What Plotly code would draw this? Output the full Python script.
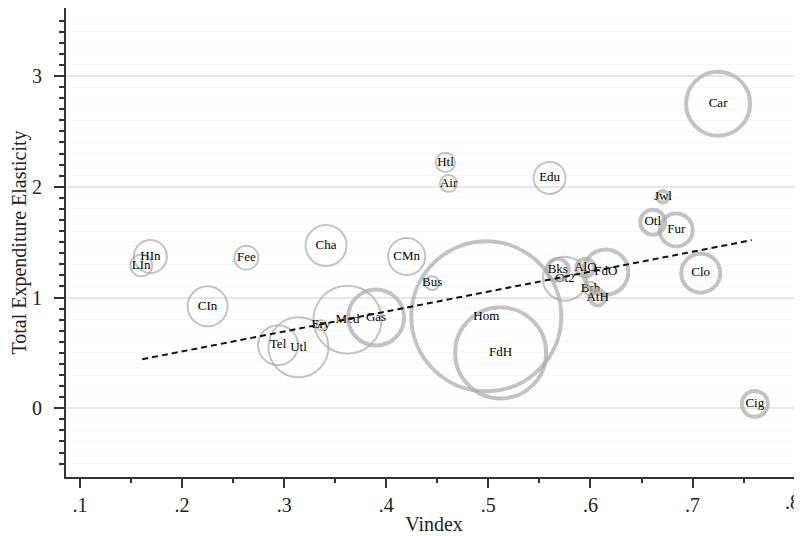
import plotly.graph_objects as go
import numpy as np

# ---- data ----
labels = ["Car", "Cig", "Clo", "Fur", "Otl", "Jwl", "Gas", "Hom", "FdH", "FdO",
          "AtH", "Bks", "AlO",
          "Edu", "Htl", "Air", "Cha", "CMn", "Bus", "Fee", "HIn", "LIn", "CIn",
          "Tel", "Utl", "Ery", "Med", "Ot2", "Brb"]
vindex = [0.725, 0.761, 0.708, 0.684, 0.661, 0.671, 0.390, 0.498, 0.512, 0.615,
          0.607, 0.568, 0.595,
          0.560, 0.458, 0.461, 0.341, 0.420, 0.445, 0.263, 0.169, 0.160, 0.225,
          0.294, 0.314, 0.336, 0.362, 0.575, 0.600]
elasticity = [2.75, 0.04, 1.22, 1.61, 1.68, 1.91, 0.82, 0.83, 0.50, 1.23,
              1.00, 1.25, 1.27,
              2.08, 2.22, 2.03, 1.47, 1.37, 1.13, 1.36, 1.37, 1.29, 0.92,
              0.57, 0.55, 0.75, 0.80, 1.17, 1.08]
budget_share = [2.56, 0.42, 0.95, 0.68, 0.39, 0.08, 1.96, 14.06, 5.18, 1.27,
                0.16, 0.30, 0.20,
                0.64, 0.23, 0.18, 1.05, 0.86, 0.12, 0.36, 0.68, 0.30, 1.00,
                1.00, 2.25, 0.06, 2.89, 1.21, 0.12]
group = ["goods"] * 13 + ["services"] * 16

fit_x = [0.161, 0.758]
fit_y = [0.443, 1.518]

x_ticks = [0.1, 0.2, 0.3, 0.4, 0.5, 0.6, 0.7, 0.8]
x_ticktext = [".1", ".2", ".3", ".4", ".5", ".6", ".7", ".8"]
y_ticks = [0, 1, 2, 3]

SERIF = "Liberation Serif"
LINE_GRAY = "#ababab"

fig = go.Figure()

for g, lw in (("services", 2), ("goods", 4)):
    idx = [i for i, v in enumerate(group) if v == g]
    fig.add_trace(go.Scatter(
        x=[vindex[i] for i in idx],
        y=[elasticity[i] for i in idx],
        text=[labels[i] for i in idx],
        mode="markers+text",
        textposition="middle center",
        textfont=dict(family=SERIF, size=13, color="#000"),
        marker=dict(
            size=[budget_share[i] for i in idx],
            sizemode="area",
            sizeref=1 / 800,
            color="rgba(0,0,0,0)",
            line=dict(color=LINE_GRAY, width=lw),
        ),
        showlegend=False,
        hoverinfo="skip",
        cliponaxis=False,
    ))

fig.add_trace(go.Scatter(
    x=fit_x, y=fit_y, mode="lines",
    line=dict(color="#111", width=2, dash="6px,4px"),
    showlegend=False, hoverinfo="skip",
))

# the page body adds an 8px offset, so the figure is 8px smaller than the window
fig.update_layout(
    width=794, height=528,
    margin=dict(l=58, r=0, t=0, b=59),
    paper_bgcolor="white", plot_bgcolor="white",
    font=dict(family=SERIF, color="#222"),
)

# the last tick label sits at the right edge: draw it right-aligned so it stays whole
fig.add_annotation(
    x=x_ticks[-1], xref="x", y=0, yref="paper",
    text=x_ticktext[-1], showarrow=False,
    xanchor="right", yanchor="top", xshift=7, yshift=-12,
    font=dict(family=SERIF, size=20, color="#222"),
)

fig.update_xaxes(
    range=[0.0863, 0.8072], automargin=False,
    tickmode="array", tickvals=x_ticks, ticktext=x_ticktext[:-1] + [""],
    ticks="outside", ticklen=9, tickwidth=2, tickcolor="#333",
    tickfont=dict(family=SERIF, size=20, color="#222"),
    minor=dict(dtick=0.05, tick0=0, ticks="outside", ticklen=4, tickwidth=2, tickcolor="#333", showgrid=False),
    showline=True, linewidth=2, linecolor="#333",
    showgrid=False, zeroline=False,
    title=dict(text="Vindex", font=dict(family=SERIF, size=20, color="#222"), standoff=2),
)

fig.update_yaxes(
    range=[-0.6206, 3.614], automargin=False,
    tickmode="array", tickvals=y_ticks,
    ticks="outside", ticklen=10, tickwidth=2, tickcolor="#333",
    ticklabelstandoff=8,
    tickfont=dict(family=SERIF, size=20, color="#222"),
    minor=dict(tickvals=list(np.round(np.arange(-0.5, 3.51, 0.1), 2)),
               ticks="outside", ticklen=5, tickwidth=2, tickcolor="#333",
               showgrid=True, gridcolor="#f7f7f7", gridwidth=1),
    showline=True, linewidth=2, linecolor="#333",
    showgrid=True, gridcolor="#e6e6e6", gridwidth=1.5, zeroline=False,
    title=dict(text="Total Expenditure Elasticity", font=dict(family=SERIF, size=20, color="#222"), standoff=4),
)

fig.write_html("out.html")
